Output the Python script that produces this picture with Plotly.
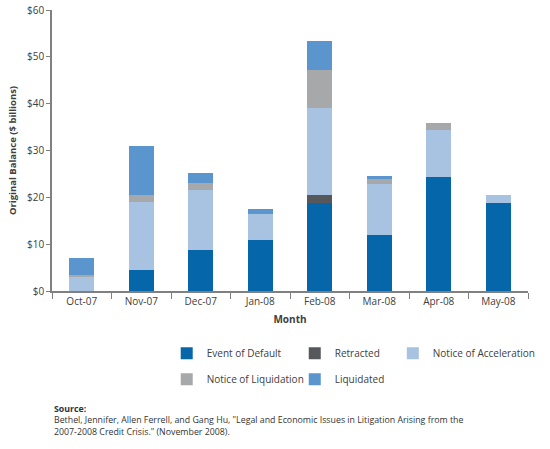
import plotly.graph_objects as go

months = ["Oct-07", "Nov-07", "Dec-07", "Jan-08", "Feb-08", "Mar-08", "Apr-08", "May-08"]

# Original balance, $ billions
event_of_default = [0, 4.4, 8.8, 10.9, 18.7, 11.9, 24.3, 18.8]
retracted = [0, 0, 0, 0, 1.9, 0, 0, 0]
notice_of_acceleration = [2.9, 14.5, 12.8, 5.6, 18.4, 11.0, 10.1, 1.8]
notice_of_liquidation = [0.6, 1.5, 1.5, 0, 8.2, 1.0, 1.4, 0]
liquidated = [3.6, 10.6, 2.0, 1.0, 6.1, 0.7, 0, 0]

font_family = "Open Sans, Noto Sans, sans-serif"
text_color = "#404040"
axis_color = "#808080"

series = [
    ("Event of Default", event_of_default, "#0567aa", "legend"),
    ("Retracted", retracted, "#56585c", "legend2"),
    ("Notice of Acceleration", notice_of_acceleration, "#a8c2e1", "legend3"),
    ("Notice of Liquidation", notice_of_liquidation, "#a7a8aa", "legend"),
    ("Liquidated", liquidated, "#5b95cd", "legend2"),
]

fig = go.Figure()
for name, vals, color, leg in series:
    fig.add_trace(go.Bar(
        x=months, y=vals, name=name, legend=leg, legendgroup=name,
        marker=dict(color=color, line=dict(width=0)),
        width=0.42,
    ))

legend_common = dict(
    orientation="v", yanchor="top", xanchor="left", y=-0.17,
    font=dict(family=font_family, size=10, color=text_color),
    traceorder="grouped", tracegroupgap=7, itemwidth=30,
    bgcolor="rgba(0,0,0,0)", borderwidth=0,
)

fig.update_layout(
    width=550, height=449,
    margin=dict(l=52, r=22, t=10, b=158, autoexpand=False),
    barmode="stack", bargap=0.58,
    plot_bgcolor="white", paper_bgcolor="white",
    font=dict(family=font_family, size=10, color=text_color),
    legend=dict(legend_common, x=0.241),
    legend2=dict(legend_common, x=0.510),
    legend3=dict(legend_common, x=0.716),
    xaxis=dict(
        showline=True, linecolor=axis_color, linewidth=1.5,
        ticks="outside", tickson="boundaries", ticklen=6, tickcolor=axis_color,
        tickfont=dict(size=10, color=text_color),
        title=dict(text="<b>Month</b>", standoff=9, font=dict(size=10, color=text_color)),
    ),
    yaxis=dict(
        range=[0, 60], dtick=10, tickprefix="$",
        showline=True, linecolor=axis_color, linewidth=1.5,
        ticks="outside", ticklen=4, tickcolor=axis_color,
        showgrid=False, zeroline=False,
        tickfont=dict(size=10, color=text_color),
        title=dict(text="<b>Original Balance ($ billions)</b>", standoff=9,
                   font=dict(size=9.5, color=text_color)),
    ),
)

fig.add_annotation(
    xref="paper", yref="paper", x=0, y=-0.393, xanchor="left", yanchor="top",
    align="left", showarrow=False,
    text=("<b>Source:</b><br>Bethel, Jennifer, Allen Ferrell, and Gang Hu, "
          "\"Legal and Economic Issues in Litigation Arising from the<br>"
          "2007-2008 Credit Crisis.\" (November 2008)."),
    font=dict(family=font_family, size=8.8, color="#333333"),
)

# page body has a default 8px margin; drop it so the figure sits at the window corner
fig.write_html("out.html", config={"displayModeBar": False},
               post_script="document.body.style.margin='0';")
